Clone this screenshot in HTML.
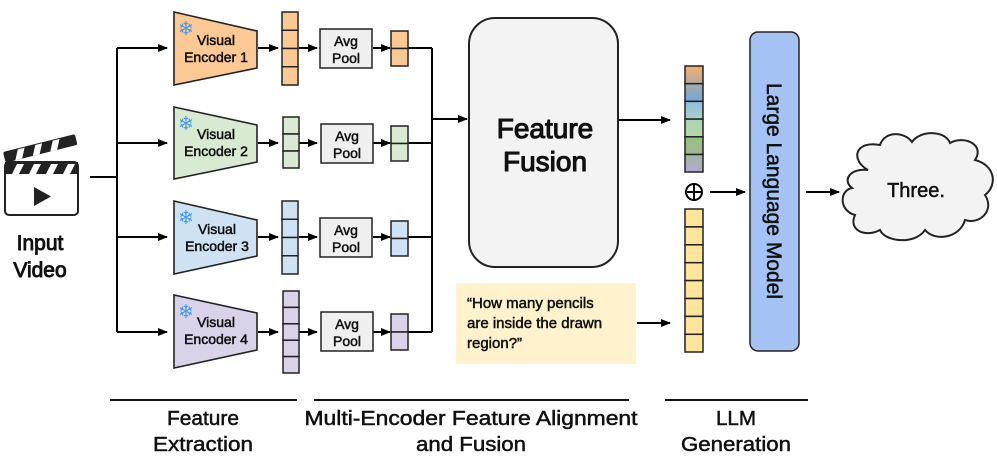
<!DOCTYPE html>
<html><head><meta charset="utf-8"><style>
html,body{margin:0;padding:0;background:#fff;width:997px;height:463px;overflow:hidden}
text{font-family:"Liberation Sans",sans-serif;fill:#111}
.b{stroke:#111;stroke-width:0.5px}
.bb{stroke:#111;stroke-width:0.9px}
</style></head><body>
<svg width="997" height="463" viewBox="0 0 997 463" xmlns="http://www.w3.org/2000/svg">
<defs>
<marker id="ah" markerWidth="10" markerHeight="8" refX="9" refY="4" orient="auto" markerUnits="userSpaceOnUse">
<path d="M0,0 L10,4 L0,8 z" fill="#000"/></marker>
<linearGradient id="g1" x1="0" y1="0" x2="0" y2="1"><stop offset="0" stop-color="#f6b26b"/><stop offset="1" stop-color="#b4a7a0"/></linearGradient>
<linearGradient id="g2" x1="0" y1="0" x2="0" y2="1"><stop offset="0" stop-color="#a9a9a9"/><stop offset="1" stop-color="#6fa8dc"/></linearGradient>
<linearGradient id="g3" x1="0" y1="0" x2="0" y2="1"><stop offset="0" stop-color="#8fbfdc"/><stop offset="1" stop-color="#a9d0c8"/></linearGradient>
<linearGradient id="g4" x1="0" y1="0" x2="0" y2="1"><stop offset="0" stop-color="#a9d5b5"/><stop offset="1" stop-color="#b6d7a8"/></linearGradient>
<linearGradient id="g5" x1="0" y1="0" x2="0" y2="1"><stop offset="0" stop-color="#93c47d"/><stop offset="1" stop-color="#9fb890"/></linearGradient>
<linearGradient id="g6" x1="0" y1="0" x2="0" y2="1"><stop offset="0" stop-color="#9fb8a0"/><stop offset="1" stop-color="#b4a7d6"/></linearGradient>
</defs>

<rect x="5" y="162" width="73" height="53" rx="4" fill="#fff" stroke="#222" stroke-width="2"/>
<rect x="5" y="162" width="73" height="12" fill="#222"/>
<g fill="#fff"><polygon points="12,174 17,164 24,164 19,174"/><polygon points="29,174 34,164 41,164 36,174"/><polygon points="46,174 51,164 58,164 53,174"/><polygon points="63,174 68,164 75,164 70,174"/></g>
<g transform="translate(3,152) rotate(-14)">
<rect x="0" y="0" width="74" height="11" fill="#222" rx="2"/>
<g fill="#fff"><polygon points="10,11 15,1 22,1 17,11"/><polygon points="28,11 33,1 40,1 35,11"/><polygon points="46,11 51,1 58,1 53,11"/></g>
</g>
<polygon points="34,187 34,206 51,196.5" fill="#222"/>
<text class="bb" x="40" y="250" font-size="21" text-anchor="middle">Input</text>
<text class="bb" x="40" y="277" font-size="21" text-anchor="middle">Video</text>

<g stroke="#000" stroke-width="2" fill="none">
<line x1="90" y1="177" x2="117" y2="177"/>
<line x1="117" y1="48" x2="117" y2="332"/>
<line x1="117" y1="48" x2="167" y2="48" marker-end="url(#ah)"/>
<line x1="117" y1="143" x2="167" y2="143" marker-end="url(#ah)"/>
<line x1="117" y1="237" x2="167" y2="237" marker-end="url(#ah)"/>
<line x1="117" y1="332" x2="167" y2="332" marker-end="url(#ah)"/>
</g>

<g stroke="#222" stroke-width="1.6">
<polygon points="174,12 257,31 257,68 174,85" fill="#fcc894"/>
<polygon points="174,107 257,125 257,162 174,179" fill="#d9ead3"/>
<polygon points="174,201 257,220 257,256 174,274" fill="#cfe2f3"/>
<polygon points="174,295 257,313 257,350 174,368" fill="#d9d2e9"/>
</g>
<g font-size="14" text-anchor="middle" class="b">
<text x="216" y="45">Visual</text><text x="216" y="62">Encoder 1</text>
<text x="216" y="139">Visual</text><text x="216" y="156">Encoder 2</text>
<text x="217" y="234">Visual</text><text x="217" y="251">Encoder 3</text>
<text x="216" y="327">Visual</text><text x="216" y="344">Encoder 4</text>
</g>
<g font-size="19" text-anchor="middle">
<text x="186" y="35" style="fill:#3d9be9">❄</text>
<text x="186" y="130" style="fill:#3d9be9">❄</text>
<text x="186" y="224" style="fill:#3d9be9">❄</text>
<text x="186" y="318" style="fill:#3d9be9">❄</text>
</g>

<g stroke="#000" stroke-width="2" fill="none">
<line x1="258" y1="48" x2="278" y2="48" marker-end="url(#ah)"/>
<line x1="258" y1="143" x2="278" y2="143" marker-end="url(#ah)"/>
<line x1="258" y1="237" x2="278" y2="237" marker-end="url(#ah)"/>
<line x1="258" y1="332" x2="278" y2="332" marker-end="url(#ah)"/>
<line x1="299" y1="48" x2="317" y2="48" marker-end="url(#ah)"/>
<line x1="299" y1="143" x2="317" y2="143" marker-end="url(#ah)"/>
<line x1="299" y1="237" x2="317" y2="237" marker-end="url(#ah)"/>
<line x1="299" y1="332" x2="317" y2="332" marker-end="url(#ah)"/>
<line x1="373" y1="48" x2="390" y2="48" marker-end="url(#ah)"/>
<line x1="373" y1="143" x2="390" y2="143" marker-end="url(#ah)"/>
<line x1="373" y1="237" x2="390" y2="237" marker-end="url(#ah)"/>
<line x1="373" y1="332" x2="390" y2="332" marker-end="url(#ah)"/>
<line x1="408" y1="48" x2="432" y2="48"/>
<line x1="408" y1="143" x2="432" y2="143"/>
<line x1="408" y1="237" x2="432" y2="237"/>
<line x1="408" y1="332" x2="432" y2="332"/>
<line x1="432" y1="48" x2="432" y2="332"/>
<line x1="432" y1="119" x2="467" y2="119" marker-end="url(#ah)"/>
</g>

<g stroke="#222" stroke-width="1.5">
<g fill="#fcc894"><rect x="282" y="12" width="16" height="18.25"/><rect x="282" y="30.25" width="16" height="18.25"/><rect x="282" y="48.5" width="16" height="18.25"/><rect x="282" y="66.75" width="16" height="18.25"/></g>
<g fill="#d9ead3"><rect x="283" y="117" width="16" height="17"/><rect x="283" y="134" width="16" height="17"/><rect x="283" y="151" width="16" height="17"/></g>
<g fill="#cfe2f3"><rect x="282" y="201" width="16" height="18.25"/><rect x="282" y="219.25" width="16" height="18.25"/><rect x="282" y="237.5" width="16" height="18.25"/><rect x="282" y="255.75" width="16" height="18.25"/></g>
<g fill="#d9d2e9"><rect x="283" y="291" width="16" height="16.4"/><rect x="283" y="307.4" width="16" height="16.4"/><rect x="283" y="323.8" width="16" height="16.4"/><rect x="283" y="340.2" width="16" height="16.4"/><rect x="283" y="356.6" width="16" height="16.4"/></g>
<g fill="#efefef"><rect x="320" y="29" width="52" height="39"/><rect x="321" y="124" width="52" height="39"/><rect x="320" y="218" width="52" height="39"/><rect x="321" y="312" width="52" height="39"/></g>
<g fill="#fcc894"><rect x="391" y="31" width="17" height="17.5"/><rect x="391" y="48.5" width="17" height="17.5"/></g>
<g fill="#d9ead3"><rect x="391" y="126" width="17" height="17.5"/><rect x="391" y="143.5" width="17" height="17.5"/></g>
<g fill="#cfe2f3"><rect x="391" y="221" width="17" height="17.5"/><rect x="391" y="238.5" width="17" height="17.5"/></g>
<g fill="#d9d2e9"><rect x="391" y="314" width="17" height="18"/><rect x="391" y="332" width="17" height="18"/></g>
</g>
<g font-size="14" text-anchor="middle" class="b">
<text x="346" y="46">Avg</text><text x="346" y="63">Pool</text>
<text x="347" y="141">Avg</text><text x="347" y="158">Pool</text>
<text x="346" y="235">Avg</text><text x="346" y="252">Pool</text>
<text x="347" y="329">Avg</text><text x="347" y="346">Pool</text>
</g>

<rect x="469" y="18" width="149" height="249" rx="26" fill="#f3f3f3" stroke="#222" stroke-width="2"/>
<text x="545" y="138" font-size="28" text-anchor="middle" style="stroke:#111;stroke-width:1.1px">Feature</text>
<text x="545" y="171" font-size="28" text-anchor="middle" style="stroke:#111;stroke-width:1.1px">Fusion</text>
<g stroke="#000" stroke-width="2" fill="none">
<line x1="618" y1="120" x2="670" y2="120" marker-end="url(#ah)"/>
<line x1="710" y1="192" x2="745" y2="192" marker-end="url(#ah)"/>
<line x1="806" y1="192" x2="839" y2="192" marker-end="url(#ah)"/>
<line x1="637" y1="323" x2="670" y2="323" marker-end="url(#ah)"/>
<circle cx="694" cy="192" r="8"/>
<line x1="686" y1="192" x2="702" y2="192"/><line x1="694" y1="184" x2="694" y2="200"/>
</g>
<g stroke="#222" stroke-width="1.5">
<rect x="685" y="66" width="18" height="17.7" fill="url(#g1)"/>
<rect x="685" y="83.7" width="18" height="17.7" fill="url(#g2)"/>
<rect x="685" y="101.4" width="18" height="17.7" fill="url(#g3)"/>
<rect x="685" y="119.1" width="18" height="17.7" fill="url(#g4)"/>
<rect x="685" y="136.8" width="18" height="17.7" fill="url(#g5)"/>
<rect x="685" y="154.5" width="18" height="17.5" fill="url(#g6)"/>
<g fill="#ffe599">
<rect x="685" y="209" width="18" height="17.9"/><rect x="685" y="226.9" width="18" height="17.9"/><rect x="685" y="244.8" width="18" height="17.9"/><rect x="685" y="262.7" width="18" height="17.9"/><rect x="685" y="280.6" width="18" height="17.9"/><rect x="685" y="298.5" width="18" height="17.9"/><rect x="685" y="316.4" width="18" height="17.9"/><rect x="685" y="334.3" width="18" height="17.7"/>
</g>
</g>

<rect x="456" y="283" width="180" height="81" fill="#fff2cc"/>
<g font-size="15" class="b"><text x="467" y="308">“How many pencils</text><text x="467" y="328">are inside the drawn</text><text x="467" y="348">region?”</text></g>

<rect x="750" y="32" width="49" height="319" rx="8" fill="#a4c2f4" stroke="#222" stroke-width="1.5"/>
<text class="b" transform="translate(767,191) rotate(90)" font-size="21" text-anchor="middle">Large Language Model</text>

<path d="M868,170 C850,160 855,140 880,145 C885,130 905,132 912,142 C920,130 945,130 950,143 C965,135 985,145 975,160 C995,165 998,185 985,195 C995,210 980,225 965,220 C960,238 935,242 925,230 C915,245 885,242 880,230 C865,238 848,230 855,215 C838,210 840,190 852,188 C842,180 850,168 868,170 Z" fill="#f3f3f3" stroke="#222" stroke-width="2"/>
<text class="b" x="916" y="197" font-size="20" text-anchor="middle">Three.</text>

<g stroke="#111" stroke-width="2">
<line x1="110" y1="400" x2="297" y2="400"/>
<line x1="314" y1="400" x2="629" y2="400"/>
<line x1="665" y1="400" x2="808" y2="400"/>
</g>
<g font-size="20" text-anchor="middle" class="b">
<text x="203" y="425" textLength="72" lengthAdjust="spacingAndGlyphs">Feature</text><text x="203" y="451" textLength="100" lengthAdjust="spacingAndGlyphs">Extraction</text>
<text x="471" y="425" textLength="333" lengthAdjust="spacingAndGlyphs">Multi-Encoder Feature Alignment</text><text x="471" y="451" textLength="110" lengthAdjust="spacingAndGlyphs">and Fusion</text>
<text x="736" y="425" textLength="40" lengthAdjust="spacingAndGlyphs">LLM</text><text x="736" y="451" textLength="110" lengthAdjust="spacingAndGlyphs">Generation</text>
</g>
</svg>
</body></html>
